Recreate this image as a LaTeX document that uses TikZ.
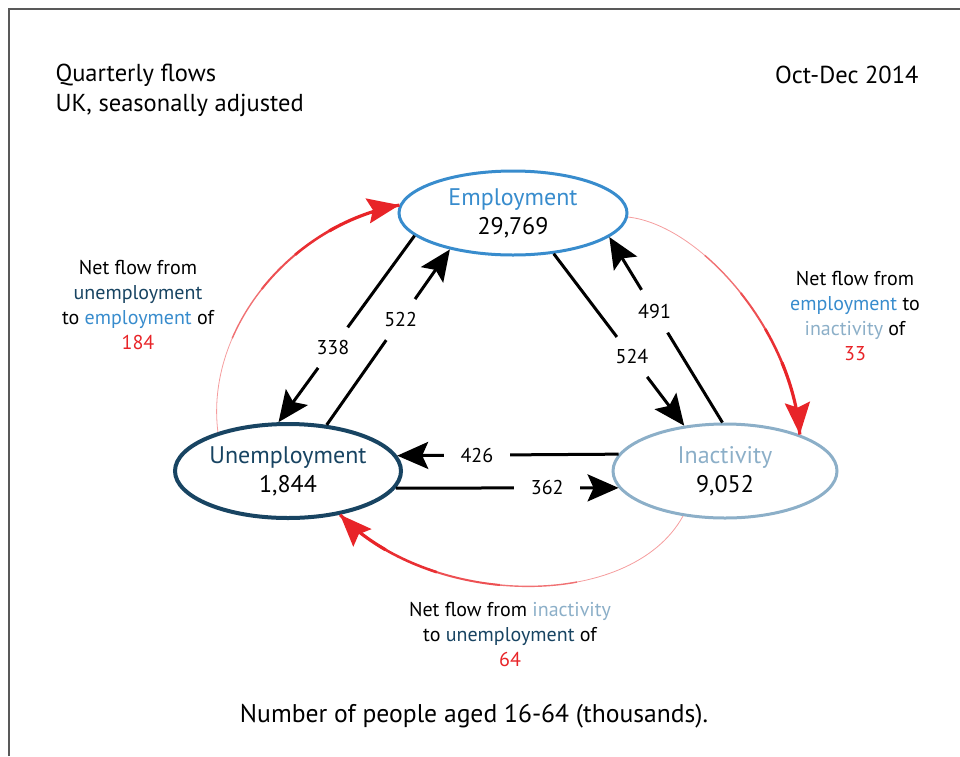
\documentclass[tikz,border=0pt]{standalone}
\usepackage{fontspec}
\setmainfont{PT Sans}
\usetikzlibrary{shapes.geometric,arrows.meta,calc}

\definecolor{empblue}{RGB}{56,140,205}
\definecolor{unempnavy}{RGB}{24,68,98}
\definecolor{inactgrey}{RGB}{140,175,200}
\definecolor{flowred}{RGB}{232,36,40}

\begin{document}
\begin{tikzpicture}[x=1pt,y=-1pt,
	state/.style={ellipse,draw,line width=3pt,inner sep=0pt,align=center,
		font=\fontsize{24}{29}\selectfont},
	flow/.style={line width=3pt,-{Stealth[length=31pt,width=27pt,inset=6pt]}},
	cut/.style={circle,fill=white,inner sep=0pt,minimum size=50pt,font=\fontsize{20}{24}\selectfont},
	hcut/.style={cut,rectangle,minimum width=66pt,minimum height=22pt},
	netflow/.style={flowred,line width=3.2pt,-{Stealth[length=32pt,width=25pt,inset=5pt]}},
	netlbl/.style={align=center,font=\fontsize{20}{25}\selectfont},
	head/.style={font=\fontsize{24.5}{29}\selectfont}]
	\useasboundingbox (0,0) rectangle (960,756);
	\draw[black!65,line width=2pt] (9,756) -- (9,9) -- (960,9);

	% headings
	\node[head,anchor=west] (title) at (52,75) {Quarterly flows};
	\node[head,anchor=west] (subtitle) at (52,105) {UK, seasonally adjusted};
	\node[head,anchor=east] (period) at (922,75) {Oct-Dec 2014};
	\node[head,font=\fontsize{25.6}{30}\selectfont] (footer) at (474,716) {Number of people aged 16-64 (thousands).};

	% the three states
	\node[state,draw=empblue,minimum width=228pt,minimum height=84pt] (emp) at (513,213)
		{\textcolor{empblue}{Employment}\\29,769};
	\node[state,draw=unempnavy,line width=4pt,minimum width=226pt,minimum height=94pt] (unemp) at (288,471)
		{\textcolor{unempnavy}{Unemployment}\\1,844};
	\node[state,draw=inactgrey,minimum width=224pt,minimum height=94pt] (inact) at (725,471)
		{\textcolor{inactgrey}{Inactivity}\\9,052};

	% gross flows
	\draw[flow] (emp.193) -- node[cut,pos=0.6] {338} (unemp.101);
	\draw[flow] (unemp.50) -- node[cut,pos=0.6] {522} (emp.210);
	\draw[flow] (emp.315) -- node[cut,pos=0.6] {524} (inact.132);
	\draw[flow] (inact.93) -- node[cut,pos=0.6] {491} (emp.346);
	\draw[flow] (inact.171) -- node[hcut,pos=0.64] {426} (unemp.8);
	\draw[flow] (unemp.351) -- node[hcut,pos=0.68] {362} (inact.189);

	% net flows, thin at the start and thick at the head
	\foreach \f/\ax/\ay/\bx/\by/\t/\len in {%
		unemp.151/205/330/290/225/emp.176/320,%
		emp.358/700/225/792/330/inact.26/290,%
		inact.227/630/612/430/608/unemp.320/430%
	}{
		\foreach \w/\c/\s/\e in {0.8/45/0/0.32, 1.4/65/0.3/0.5, 2/80/0.48/0.65, 2.6/95/0.63/0.78, 3.2/100/0.76/1.2}{
			\pgfmathsetmacro\offlen{\s*\len}
			\pgfmathsetmacro\onlen{(\e-\s)*\len}
			\draw[flowred!\c,line width=\w pt,dash pattern=on 0pt off \offlen pt on \onlen pt off 2000pt]
				(\f) .. controls (\ax,\ay) and (\bx,\by) .. (\t);
		}
		\draw[netflow] ($(\t)!24pt!(\bx,\by)$) -- (\t);
	}

	\node[netlbl] (netue) at (138,305) {Net flow from\\\textcolor{unempnavy}{unemployment}\\to \textcolor{empblue}{employment} of\\\textcolor{flowred}{184}};
	\node[netlbl] (netei) at (855,316) {Net flow from\\\textcolor{empblue}{employment} to\\\textcolor{inactgrey}{inactivity} of\\\textcolor{flowred}{33}};
	\node[netlbl] (netiu) at (510,634) {Net flow from \textcolor{inactgrey}{inactivity}\\to \textcolor{unempnavy}{unemployment} of\\\textcolor{flowred}{64}};
\end{tikzpicture}
\end{document}
